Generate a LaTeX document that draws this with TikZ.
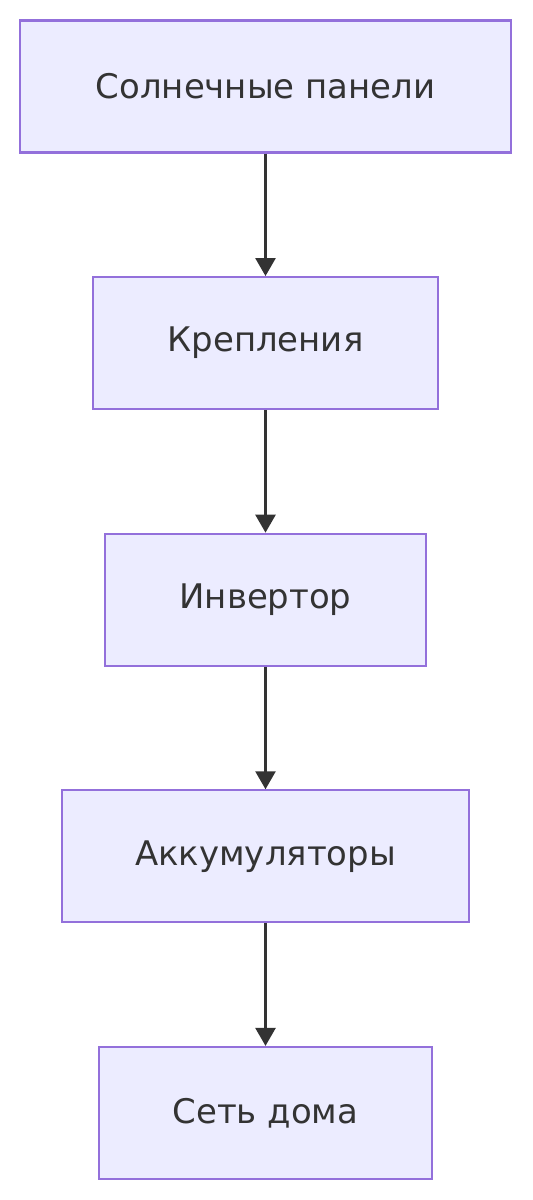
\documentclass[tikz,border=0pt]{standalone}
\usepackage{fontspec}
\setmainfont{DejaVu Sans}
\usetikzlibrary{arrows.meta, positioning}
\definecolor{boxfill}{HTML}{ECECFF}
\definecolor{boxline}{HTML}{9370DB}
\definecolor{inkgray}{HTML}{333333}
\tikzset{
  stagebox/.style={
    rectangle,
    draw=boxline,
    fill=boxfill,
    line width=1.2pt,
    text=inkgray,
    text centered,
    minimum height=2.64cm,
    font=\fontsize{19.3}{23}\selectfont,
  },
  arrow/.style={
    -{Triangle[width=0.4cm,length=0.36cm]},
    draw=inkgray,
    line width=1.5pt
  }
}
\begin{document}
\begin{tikzpicture}[node distance=2.45cm]
  \useasboundingbox (0,0) rectangle (10.64,-24);

  % Stages, top to bottom
  \node [stagebox, minimum width=9.82cm] (panels) at (5.31,-1.73) {Солнечные панели};
  \node [stagebox, minimum width=6.90cm, below=of panels] (mounts)   {Крепления};
  \node [stagebox, minimum width=6.42cm, below=of mounts] (inverter) {Инвертор};
  \node [stagebox, minimum width=8.14cm, below=of inverter] (battery) {Аккумуляторы};
  \node [stagebox, minimum width=6.66cm, below=of battery] (grid)    {Сеть дома};

  % Flow
  \draw [arrow] (panels)   -- (mounts);
  \draw [arrow] (mounts)   -- (inverter);
  \draw [arrow] (inverter) -- (battery);
  \draw [arrow] (battery)  -- (grid);
\end{tikzpicture}
\end{document}
